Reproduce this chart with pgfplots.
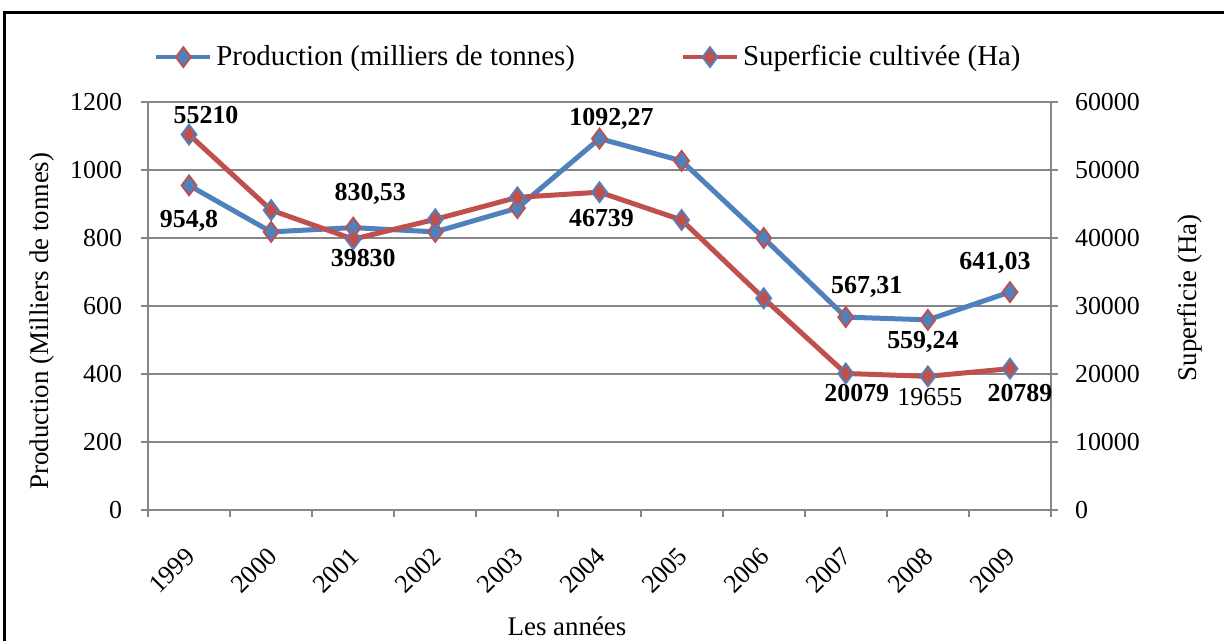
\documentclass[border=0pt]{standalone}
\usepackage{fontspec}
\setmainfont{Liberation Serif}
\usepackage{pgfplots}
\pgfplotsset{compat=1.18}
\definecolor{prodblue}{HTML}{4F81BD}
\definecolor{suprred}{HTML}{C0504D}
\definecolor{axgray}{HTML}{868686}

\tikzset{lbl/.style={font=\bfseries\fontsize{13}{15}\selectfont, inner sep=0pt}}
\pgfplotsset{
  commonax/.style={
    scale only axis, width=451.5bp, height=204bp,
    xmin=-0.5, xmax=10.5, clip=false,
    tick label style={font=\fontsize{13}{15}\selectfont},
    label style={font=\fontsize{13.5}{15}\selectfont},
    /pgf/number format/assume math mode=true,
    /pgf/number format/set thousands separator={},
    scaled y ticks=false,
    axis line style={axgray, line width=1bp},
    major tick style={axgray, line width=1bp},
    tick align=outside, major tick length=3.5bp,
  },
  prodline/.style={prodblue, line width=2.5bp, mark=diamond*, mark size=5bp,
    mark options={fill=prodblue, draw=suprred, line width=0.9bp, solid}},
  supline/.style={suprred, line width=2.5bp, mark=diamond*, mark size=5bp,
    mark options={fill=suprred, draw=prodblue, line width=0.9bp, solid}},
}

\begin{document}
\begin{tikzpicture}
\begin{axis}[commonax,
  axis y line*=left, axis x line*=bottom,
  ymin=0, ymax=1200, ytick={0,200,...,1200},
  ymajorgrids, grid style={axgray, line width=0.75bp},
  y tick label style={xshift=-6bp},
  xtick={0,...,10},
  xticklabels={1999,2000,2001,2002,2003,2004,2005,2006,2007,2008,2009},
  major x tick style={draw=none},
  minor xtick={-0.5,0.5,...,10.5},
  minor x tick style={axgray, line width=1bp},
  minor tick length=3.5bp,
  x tick label style={xshift=-2.5bp, yshift=-9.5bp, rotate=45, anchor=north east},
  ylabel={Production (Milliers de tonnes)},
  ylabel style={at={(axis description cs:-0.117,0.463)}, anchor=center},
  xlabel={Les années},
  xlabel style={at={(axis description cs:0.464,-0.284)}, anchor=center},
]
\addplot[prodline] coordinates {
 (0,954.8)(1,818)(2,830.53)(3,818)(4,888)(5,1092.27)(6,1027)(7,800)(8,567.31)(9,559.24)(10,641.03)};
\node[lbl] at (axis cs:0,954.8) [yshift=-18bp] {954,8};
\node[lbl] at (axis cs:2,830.53) [xshift=8.5bp, yshift=17bp] {830,53};
\node[lbl] at (axis cs:5,1092.27) [xshift=6bp, yshift=10bp] {1092,27};
\node[lbl] at (axis cs:8,567.31) [xshift=10.5bp, yshift=15bp] {567,31};
\node[lbl] at (axis cs:9,559.24) [xshift=-2.5bp, yshift=-11bp] {559,24};
\node[lbl] at (axis cs:10,641.03) [xshift=-7.5bp, yshift=14.5bp] {641,03};
\end{axis}
\begin{axis}[commonax,
  axis y line*=right, axis x line=none,
  ymin=0, ymax=60000, ytick={0,10000,...,60000},
  y tick label style={xshift=5bp},
  ylabel={Superficie (Ha)},
  ylabel style={at={(axis description cs:1.154,0.52)}, anchor=center},
  legend columns=2,
  legend style={at={(axis description cs:0.0,1.11)}, anchor=west, draw=none, fill=none,
    font=\fontsize{14.5}{16}\selectfont,
    /tikz/every even column/.append style={column sep=51bp}},
  legend image code/.code={\draw[mark repeat=2, mark phase=2, #1, line width=2bp] plot coordinates {(0bp,0bp)(13.5bp,0bp)(27bp,0bp)};},
]
\addlegendimage{prodline}
\addlegendentry{Production (milliers de tonnes)}
\addplot[supline] coordinates {
 (0,55210)(1,44100)(2,39830)(3,42750)(4,45980)(5,46739)(6,42650)(7,31130)(8,20079)(9,19655)(10,20789)};
\addlegendentry{Superficie cultivée (Ha)}
\node[lbl] at (axis cs:0,55210) [xshift=8.5bp, yshift=10bp] {55210};
\node[lbl] at (axis cs:2,39830) [xshift=5bp, yshift=-9.5bp] {39830};
\node[lbl] at (axis cs:5,46739) [xshift=1bp, yshift=-13bp] {46739};
\node[lbl] at (axis cs:8,20079) [xshift=5.5bp, yshift=-10bp] {20079};
\node[lbl, font=\fontsize{13}{15}\selectfont] at (axis cs:9,19655) [xshift=1bp, yshift=-10.5bp] {19655};
\node[lbl] at (axis cs:10,20789) [xshift=5bp, yshift=-12bp] {20789};
\end{axis}
\draw[black, line width=1.5bp] (-71.5bp,-65.5bp) -- (-71.5bp,248.5bp) -- (538bp,248.5bp);
\pgfresetboundingbox
\path[use as bounding box] (-74bp,-65.5bp) rectangle (538bp,255bp);
\end{tikzpicture}
\end{document}
